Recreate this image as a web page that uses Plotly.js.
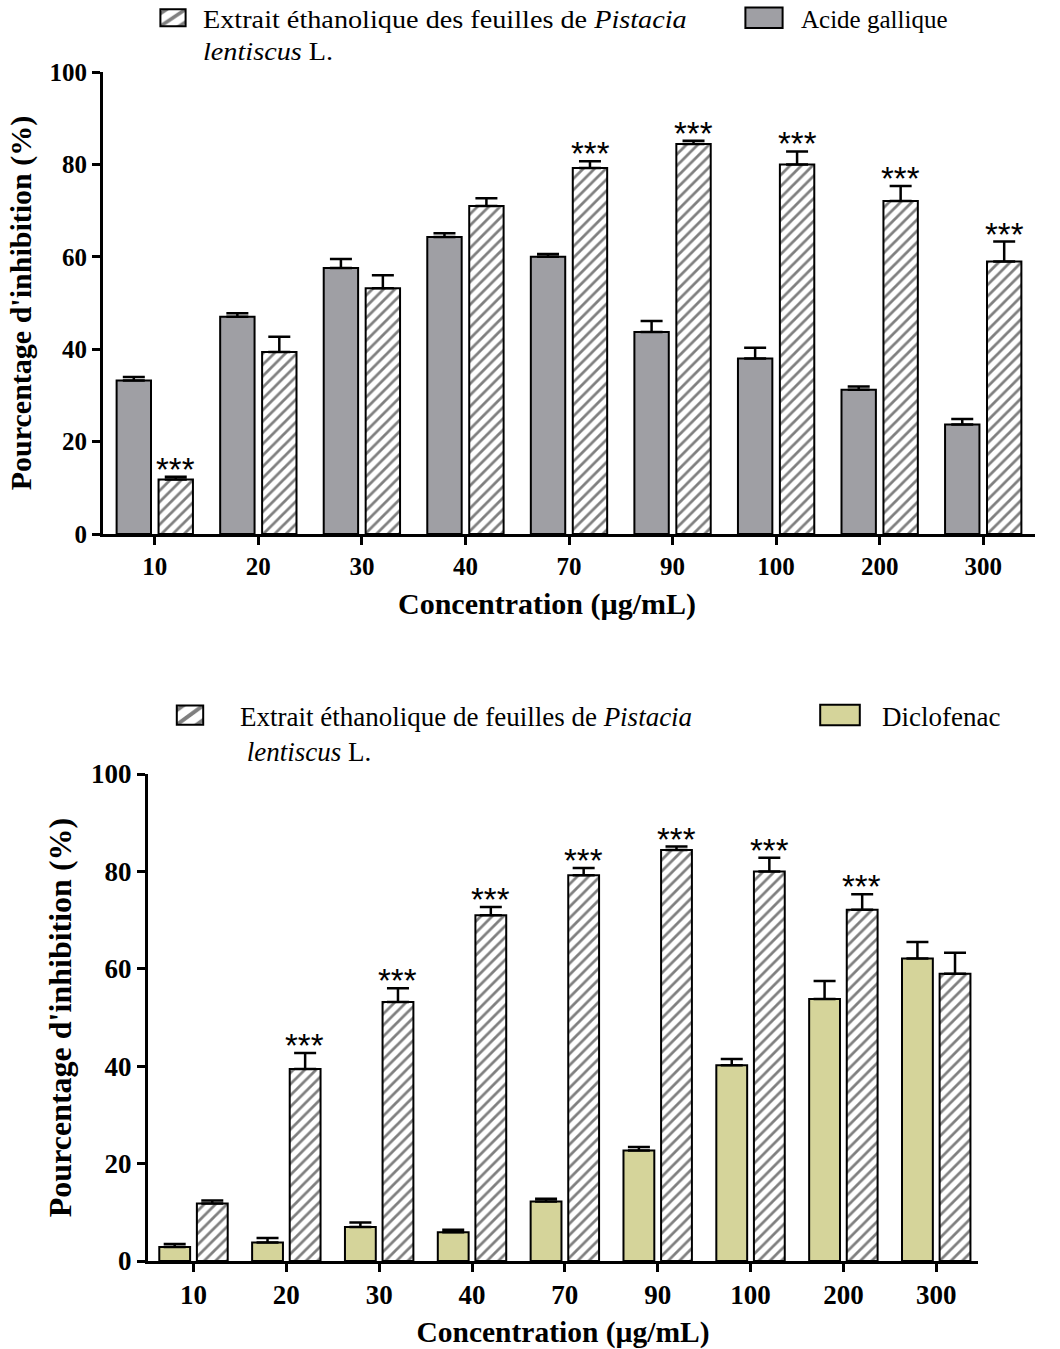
<!DOCTYPE html>
<html>
<head>
<meta charset="utf-8">
<script src="https://cdn.plot.ly/plotly-3.0.1.min.js"></script>
<style>
  html, body { margin: 0; padding: 0; background: #fff; }
  #chart { width: 1060px; height: 1349px; }
</style>
</head>
<body>
<div id="chart"></div>
<script>
// ---- data ----
const concentrations = ['10', '20', '30', '40', '70', '90', '100', '200', '300'];

const extraitValues = [11.8, 39.4, 53.2, 71.0, 79.2, 84.4, 80.0, 72.1, 59.0];
const extraitErrors = [0.6, 3.3, 2.8, 1.7, 1.5, 0.7, 2.8, 3.2, 4.3];

const gallicValues = [33.2, 47.0, 57.6, 64.3, 60.0, 43.7, 38.0, 31.2, 23.7];
const gallicErrors = [0.8, 0.8, 1.9, 0.8, 0.6, 2.4, 2.3, 0.7, 1.2];

const diclofenacValues = [2.9, 3.8, 7.0, 5.9, 12.2, 22.7, 40.2, 53.8, 62.1];
const diclofenacErrors = [0.6, 0.9, 0.9, 0.5, 0.6, 0.7, 1.3, 3.7, 3.4];

const sigTop = ['***', '', '', '', '***', '***', '***', '***', '***'];
const sigBottom = ['', '***', '***', '***', '***', '***', '***', '***', ''];

const yTickVals = [0, 20, 40, 60, 80, 100];

const legendExtraitTop = 'Extrait éthanolique des feuilles de <i>Pistacia</i><br><i>lentiscus</i> L.';
const legendGallic = 'Acide gallique';
const legendExtraitBottom = 'Extrait éthanolique de feuilles de <i>Pistacia</i><br> <i>lentiscus</i> L.';
const legendDiclofenac = 'Diclofenac';

const xTitle = 'Concentration (µg/mL)';
const yTitle = "Pourcentage d'inhibition (%)";

// ---- styles ----
const W = 1060, H = 1349;
const serif = 'Liberation Serif, Times New Roman, serif';
const gray = '#9f9fa4';
const khaki = '#d5d49a';
const hatch = {shape: '/', fgcolor: '#000', bgcolor: '#fff', size: 8, solidity: 0.34, fillmode: 'overlay'};

function errBar(arr) {
  return {type: 'data', array: arr, arrayminus: arr.map(() => 0), symmetric: false,
          color: '#000', thickness: 2.5, width: 11};
}

const traces = [
  {type: 'bar', x: concentrations, y: gallicValues, name: legendGallic,
   xaxis: 'x', yaxis: 'y', legend: 'legend2',
   marker: {color: gray, line: {color: '#000', width: 2}},
   error_y: errBar(gallicErrors)},
  {type: 'bar', x: concentrations, y: extraitValues, name: legendExtraitTop,
   xaxis: 'x', yaxis: 'y', legend: 'legend',
   marker: {color: '#fff', pattern: hatch, line: {color: '#000', width: 2}},
   error_y: errBar(extraitErrors)},
  {type: 'bar', x: concentrations, y: diclofenacValues, name: legendDiclofenac,
   xaxis: 'x2', yaxis: 'y2', legend: 'legend4',
   marker: {color: khaki, line: {color: '#000', width: 2}},
   error_y: errBar(diclofenacErrors)},
  {type: 'bar', x: concentrations, y: extraitValues, name: legendExtraitBottom,
   xaxis: 'x2', yaxis: 'y2', legend: 'legend3',
   marker: {color: '#fff', pattern: hatch, line: {color: '#000', width: 2}},
   error_y: errBar(extraitErrors)}
];

// significance stars: positioned at category index, on top of each error bar
const starFont = {family: 'Liberation Sans, Arial, sans-serif', size: 33, color: '#000'};
const annotations = [];
concentrations.forEach((c, i) => {
  if (sigTop[i]) annotations.push({
    xref: 'x', yref: 'y', x: i, y: extraitValues[i] + extraitErrors[i],
    xshift: 21, yshift: -13, yanchor: 'bottom', showarrow: false, text: sigTop[i], font: starFont
  });
  if (sigBottom[i]) annotations.push({
    xref: 'x2', yref: 'y2', x: i, y: extraitValues[i] + extraitErrors[i],
    xshift: 18.5, yshift: -13, yanchor: 'bottom', showarrow: false, text: sigBottom[i], font: starFont
  });
});
// top chart x-axis title (sits left of the axis centre in the original)
annotations.push({
  xref: 'paper', yref: 'paper', x: 547 / W, y: 1 - 604 / H, xanchor: 'center', yanchor: 'middle',
  showarrow: false, text: xTitle,
  font: {family: serif, size: 30, color: '#000', weight: 'bold'}
});

function xAxis(domain, range, tickSize, title, titleSize, anchor) {
  return {domain: domain, range: range, anchor: anchor, type: 'category',
    showline: true, linecolor: '#000', linewidth: 3, ticks: 'outside', ticklen: 8, tickwidth: 3,
    tickcolor: '#000', showgrid: false, zeroline: false, fixedrange: true,
    tickfont: {family: serif, size: tickSize, color: '#000', weight: 'bold'},
    title: {text: title, standoff: 12, font: {family: serif, size: titleSize, color: '#000', weight: 'bold'}}};
}
function yAxis(domain, tickSize, titleSize, anchor) {
  return {domain: domain, range: [0, 100], anchor: anchor,
    showline: true, linecolor: '#000', linewidth: 3, ticks: 'outside', ticklen: 8, tickwidth: 3,
    tickcolor: '#000', tickvals: yTickVals, showgrid: false, zeroline: false, fixedrange: true,
    tickfont: {family: serif, size: tickSize, color: '#000', weight: 'bold'},
    title: {text: yTitle, standoff: 10, font: {family: serif, size: titleSize, color: '#000', weight: 'bold'}}};
}

function legendAt(xpx, ypx, size) {
  return {x: xpx / W, y: 1 - ypx / H, xanchor: 'left', yanchor: 'top', orientation: 'v',
    bgcolor: 'rgba(0,0,0,0)', borderwidth: 0, valign: 'top',
    font: {family: serif, size: size, color: '#000'}};
}

const layout = {
  width: W, height: H,
  margin: {l: 0, r: 0, t: 0, b: 0, autoexpand: false},
  paper_bgcolor: '#fff', plot_bgcolor: '#fff',
  barmode: 'group', bargap: 0.19, bargroupgap: 0.18,
  showlegend: true,
  xaxis: xAxis([103 / W, 1035 / W], [-0.5, 8.5], 25, '', 30, 'y'),
  yaxis: yAxis([1 - 534 / H, 1 - 72 / H], 25, 30, 'x'),
  xaxis2: xAxis([148 / W, 978 / W], [-0.49, 8.45], 27, xTitle, 29.5, 'y2'),
  yaxis2: yAxis([1 - 1261 / H, 1 - 774 / H], 27, 32, 'x2'),
  legend: legendAt(163, -5, 25),
  legend2: legendAt(761, -5, 25),
  legend3: legendAt(200, 691, 27),
  legend4: legendAt(842, 691, 27),
  annotations: annotations
};

// legend symbol size / text stretch to match the original figure's legend
const legendLook = {
  legend:  {dx: -10, sx: 2.1, sy: 1.4, tx: 1.13},
  legend2: {dx: -17, sx: 3.1, sy: 1.7, tx: 1.13},
  legend3: {dx: -30, sx: 2.2, sy: 1.6, tx: 1.21},
  legend4: {dx: -22, sx: 3.3, sy: 1.7, tx: 1.21}
};

Plotly.newPlot('chart', traces, layout, {staticPlot: true, displayModeBar: false}).then(gd => {
  Object.keys(legendLook).forEach(id => {
    const c = legendLook[id];
    gd.querySelectorAll('g.' + id + ' [clip-path]').forEach(e => e.removeAttribute('clip-path'));
    gd.querySelectorAll('g.' + id + ' .legendpoints path').forEach(p => {
      const orig = p.getAttribute('transform') || '';
      p.setAttribute('transform', `${orig} translate(${c.dx},0) scale(${c.sx},${c.sy})`);
      p.style.vectorEffect = 'non-scaling-stroke';
      p.style.strokeWidth = '2px';
    });
    gd.querySelectorAll('g.' + id + ' text.legendtext').forEach(t => {
      const bx = t.getBBox().x;
      t.setAttribute('transform', `translate(${bx * (1 - c.tx)},0) scale(${c.tx},1)`);
    });
  });
});
</script>
</body>
</html>
